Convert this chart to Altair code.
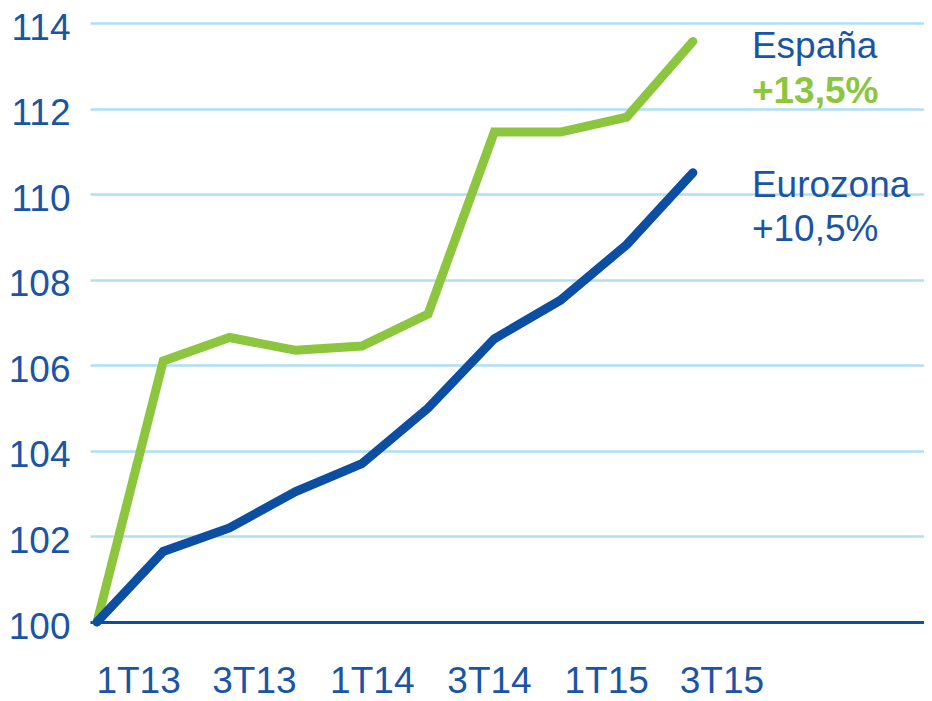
import altair as alt
import pandas as pd

quarters_idx = list(range(10))
quarters = ["1T13", "2T13", "3T13", "4T13", "1T14", "2T14", "3T14", "4T14", "1T15", "2T15"]
espana = [100, 106.1, 106.65, 106.35, 106.45, 107.2, 111.45, 111.45, 111.8, 113.57]
eurozona = [100, 101.65, 102.2, 103.05, 103.7, 105.0, 106.62, 107.52, 108.82, 110.5]
tick_labels = ["1T13", "3T13", "1T14", "3T14", "1T15", "3T15"]
tick_pos = [0.62, 2.37, 4.15, 5.92, 7.69, 9.43]
series_names = ["España", "Eurozona"]
series_changes = ["+13,5%", "+10,5%"]

BLUE_TXT = "#1a55a5"
BLUE_LINE = "#0b4ea2"
GREEN = "#8cc63e"
GRID = "#aee0f2"
FONT = "Liberation Sans"

df = pd.DataFrame({
    "i": quarters_idx * 2,
    "q": quarters * 2,
    "v": espana + eurozona,
    "s": ["España"] * 10 + ["Eurozona"] * 10,
})

label_expr = "{" + ",".join(f"'{p}':'{l}'" for p, l in zip(tick_pos, tick_labels)) + "}[datum.value]"

x = alt.X("i:Q", scale=alt.Scale(domain=[-0.106, 12.49], nice=False, zero=False),
          axis=alt.Axis(values=tick_pos, labelExpr=label_expr, title=None, grid=False,
                        gridOpacity=0, ticks=False, domain=True, domainColor=BLUE_LINE,
                        domainWidth=3, labelFont=FONT, labelFontSize=37, labelColor=BLUE_TXT,
                        labelBaseline="top", labelPadding=41, labelAlign="center"))
y = alt.Y("v:Q", scale=alt.Scale(domain=[100, 114], nice=False, zero=False),
          axis=alt.Axis(values=[100, 102, 104, 106, 108, 110, 112, 114], title=None,
                        grid=True, gridColor=GRID, gridWidth=2.5, ticks=False, domain=False,
                        domainOpacity=0, labelFont=FONT, labelFontSize=37, labelColor=BLUE_TXT,
                        labelPadding=20, labelOffset=5))

color = alt.Color("s:N", scale=alt.Scale(domain=series_names, range=[GREEN, BLUE_LINE]), legend=None)

lines = alt.Chart(df).mark_line(strokeWidth=9, strokeCap="round", strokeJoin="miter").encode(
    x=x, y=y, color=color, order="i:Q"
)

last_e = pd.DataFrame({"i": [9], "v": [espana[-1]], "name": [series_names[0]], "chg": [series_changes[0]]})
last_z = pd.DataFrame({"i": [9], "v": [eurozona[-1]], "name": [series_names[1]], "chg": [series_changes[1]]})

def txt(data, field, dy, col, bold=False):
    return alt.Chart(data).mark_text(
        align="left", baseline="alphabetic", dx=59, dy=dy, font=FONT, fontSize=37,
        color=col, fontWeight="bold" if bold else "normal"
    ).encode(x="i:Q", y="v:Q", text=f"{field}:N")

t1 = txt(last_e, "name", 17, BLUE_TXT)
t2 = txt(last_e, "chg", 62, GREEN, True)
t3 = txt(last_z, "name", 24, BLUE_TXT)
t4 = txt(last_z, "chg", 68, BLUE_TXT)

chart = alt.layer(lines, t1, t2, t3, t4).properties(
    width=834, height=599,
    autosize=alt.AutoSizeParams(type="none"),
    padding={"left": 82, "top": 15, "right": 0, "bottom": 78},
    view=alt.ViewBackground(stroke=None, strokeOpacity=0, fill="white"),
).configure(background="white", view=alt.ViewConfig(stroke=None, strokeOpacity=0))

chart.save("out.html", embed_options={"renderer": "svg", "actions": False})
